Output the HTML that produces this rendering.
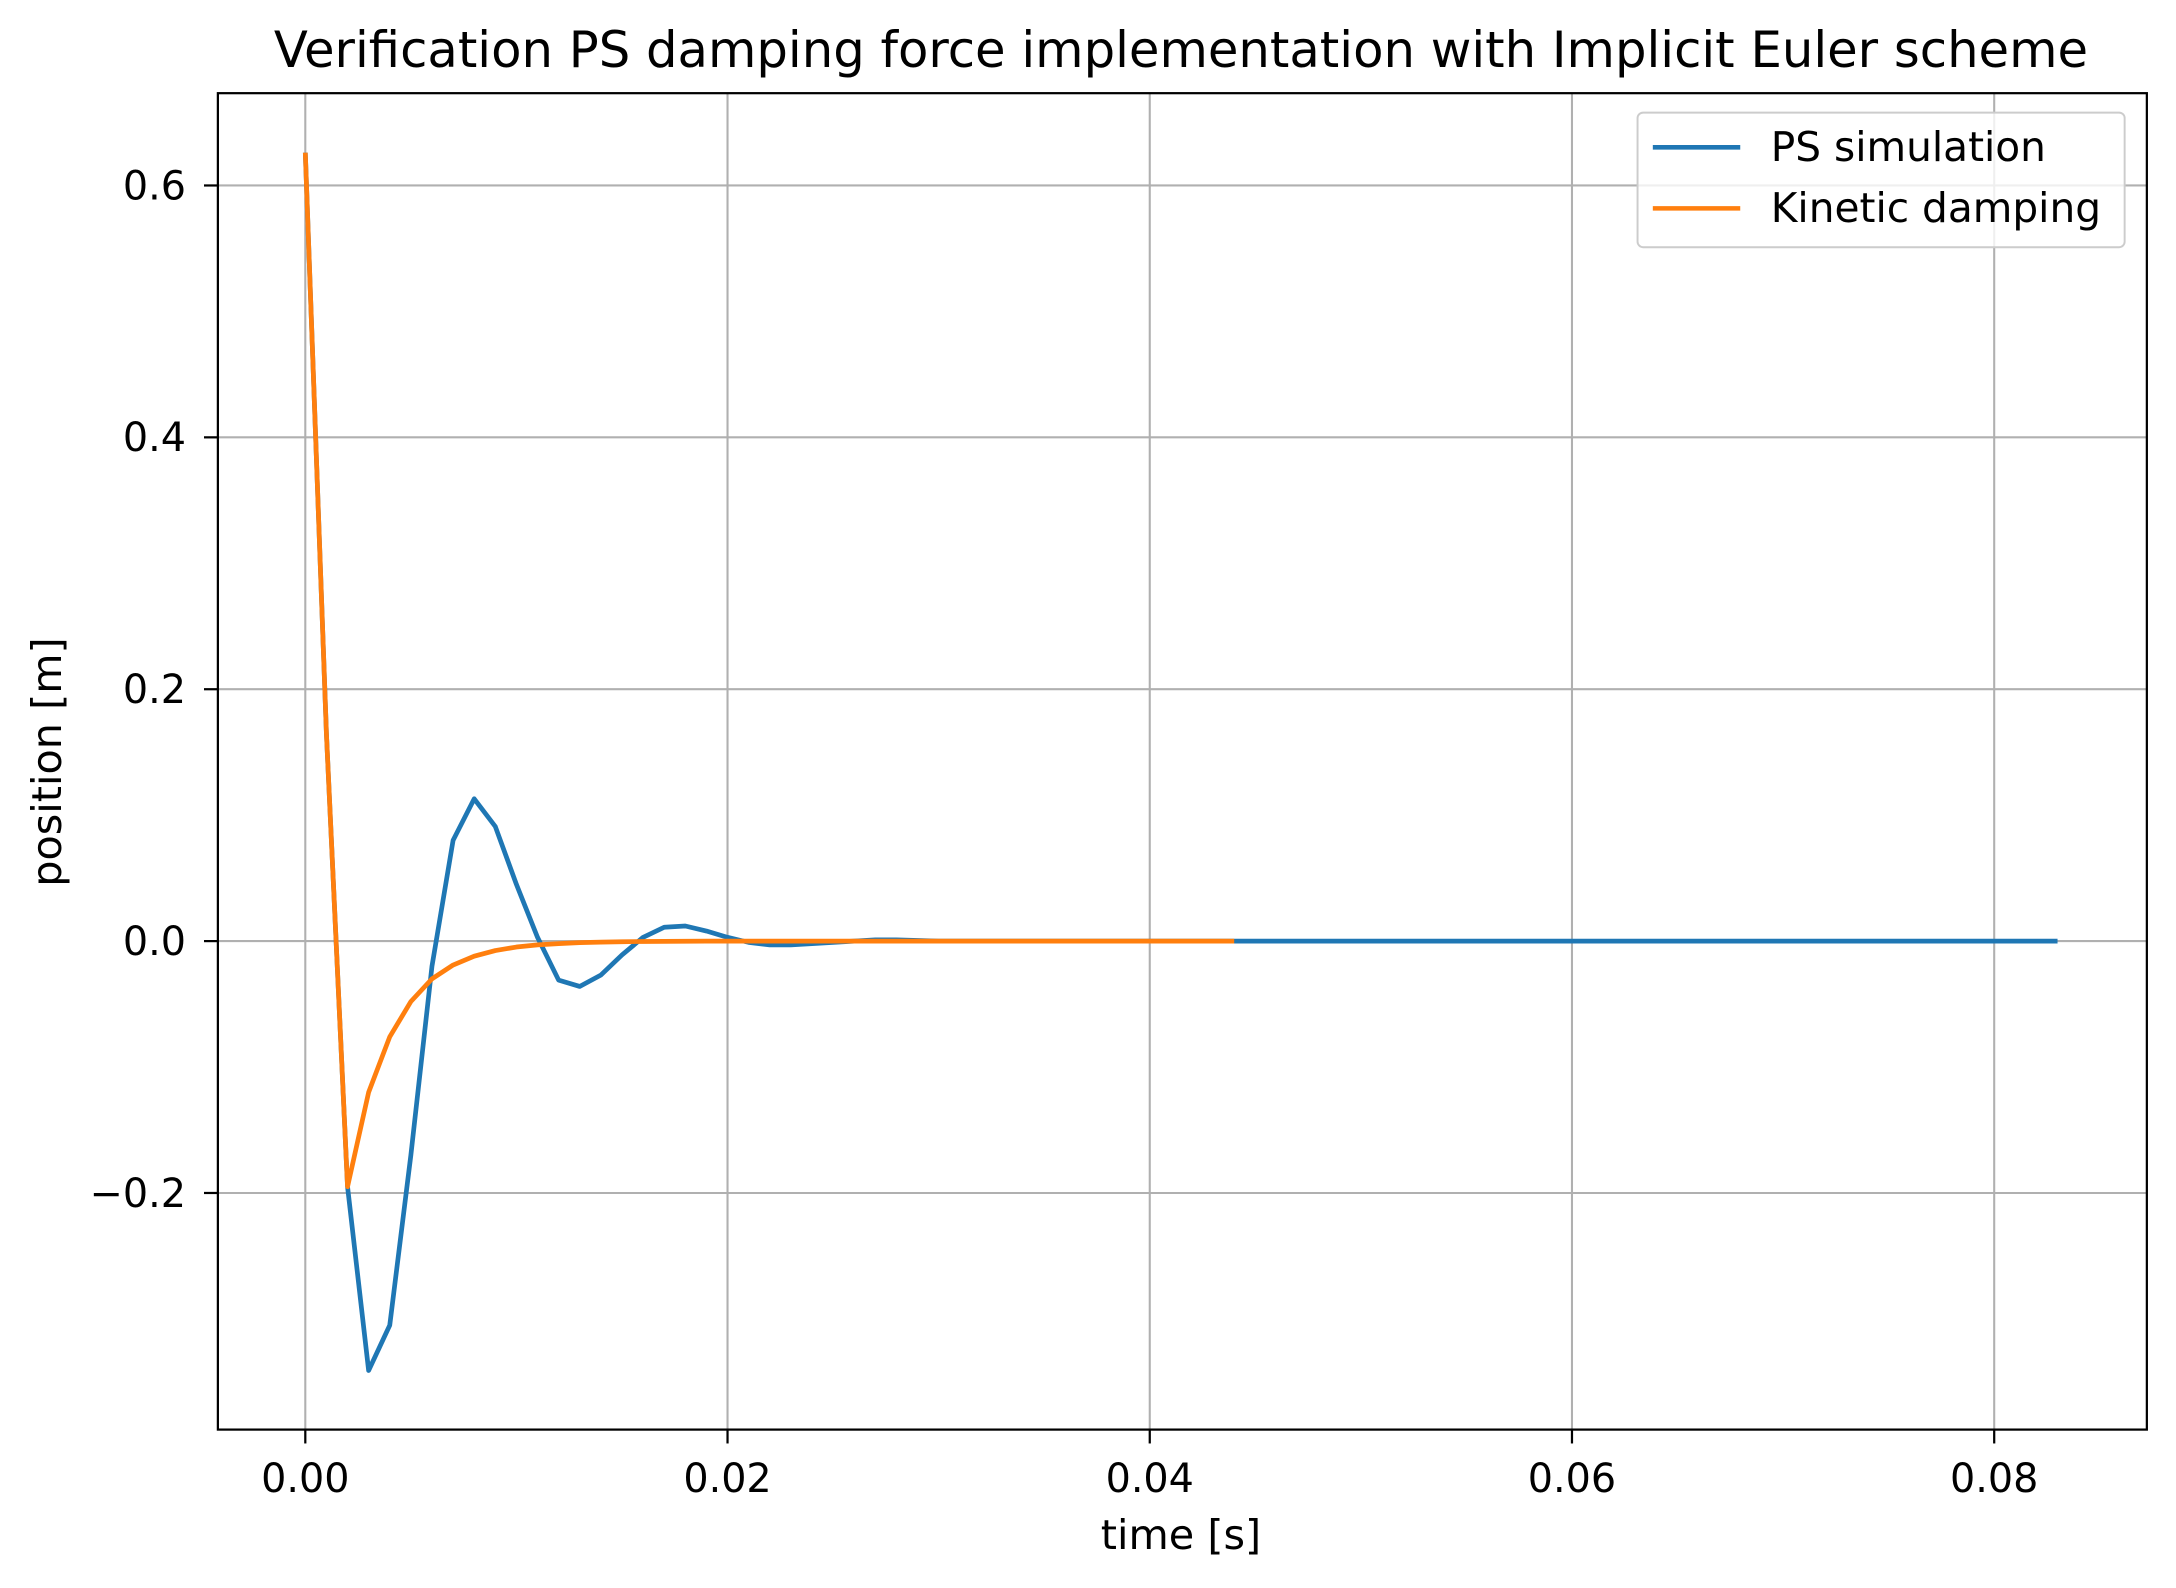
<!DOCTYPE html>
<html><head><meta charset="utf-8"><style>
html,body{margin:0;padding:0;background:#fff}
svg{display:block}
text{font-family:"DejaVu Sans","Liberation Sans",sans-serif;fill:#000}
</style></head><body>
<svg id="chart" width="2176" height="1588" viewBox="0 0 1568 1144" xmlns="http://www.w3.org/2000/svg">
<rect width="1568" height="1144" fill="#fff"/>
<g id="grid"></g>
<g id="series"></g>
<rect x="157" y="67" width="1390" height="963" fill="none" stroke="#000" stroke-width="1.6"/>
<g id="ticks"></g>
<text x="851" y="48" font-size="35.8" text-anchor="middle">Verification PS damping force implementation with Implicit Euler scheme</text>
<text x="851" y="1116" font-size="29.8" text-anchor="middle">time [s]</text>
<text transform="translate(44,549) rotate(-90)" font-size="29.8" text-anchor="middle">position [m]</text>
<g>
<rect x="1180" y="81" width="351" height="97" rx="4" fill="#fff" fill-opacity="0.8" stroke="#ccc" stroke-width="1.4"/>
<line x1="1191" y1="106" x2="1254" y2="106" stroke="#1f77b4" stroke-width="3.3"/>
<text x="1276" y="116" font-size="29.3">PS simulation</text>
<line x1="1191" y1="150" x2="1254" y2="150" stroke="#ff7f0e" stroke-width="3.3"/>
<text x="1276" y="160" font-size="29.3">Kinetic damping</text>
</g>
</svg>
<script>
const xTicks=[0,0.02,0.04,0.06,0.08];
const xTickLabels=["0.00","0.02","0.04","0.06","0.08"];
const yTicks=[-0.2,0,0.2,0.4,0.6];
const yTickLabels=["\u22120.2","0.0","0.2","0.4","0.6"];
const dt=0.001;
const psValues=[0.626,0.165,-0.195,-0.341,-0.305,-0.17,-0.02,0.08,0.113,0.091,0.045,0.003,-0.031,-0.036,-0.027,-0.011,0.003,0.011,0.012,0.008,0.003,-0.001,-0.003,-0.003,-0.002,-0.001,0,0.001,0.001,0.0005,0,0,0,0,0,0,0,0,0,0,0,0,0,0,0,0,0,0,0,0,0,0,0,0,0,0,0,0,0,0,0,0,0,0,0,0,0,0,0,0,0,0,0,0,0,0,0,0,0,0,0,0,0,0];
const kineticValues=[0.626,0.165,-0.195,-0.12,-0.076,-0.048,-0.03,-0.019,-0.012,-0.0075,-0.0047,-0.003,-0.002,-0.0012,-0.0008,-0.0005,-0.0003,-0.0002,-0.0001,0,0,0,0,0,0,0,0,0,0,0,0,0,0,0,0,0,0,0,0,0,0,0,0,0,0];
const X=v=>220+(v/0.02)*304.25;
const Y=v=>678-(v/0.2)*181.5;
const NS="http://www.w3.org/2000/svg";
function mk(tag,attrs,parent){const e=document.createElementNS(NS,tag);for(const k in attrs)e.setAttribute(k,attrs[k]);parent.appendChild(e);return e;}
const grid=document.getElementById('grid'),ticks=document.getElementById('ticks'),series=document.getElementById('series');
xTicks.forEach((t,i)=>{
 const g=mk('line',{x1:X(t),x2:X(t),y1:67,y2:1030,stroke:'#b0b0b0','stroke-width':1.5},grid);
 
 
 const tk=mk('line',{x1:X(t),x2:X(t),y1:1030,y2:1040,stroke:'#000','stroke-width':1.6},ticks);
 
 
 const tx=mk('text',{x:X(t),y:1075,'font-size':28.6,'text-anchor':'middle'},ticks);
 tx.textContent=xTickLabels[i];
 
 
});
yTicks.forEach((t,i)=>{
 const g=mk('line',{x1:157,x2:1547,y1:Y(t),y2:Y(t),stroke:'#b0b0b0','stroke-width':1.5},grid);
 
 
 const tk=mk('line',{x1:147,x2:157,y1:Y(t),y2:Y(t),stroke:'#000','stroke-width':1.6},ticks);
 
 
 const tx=mk('text',{x:134,y:Y(t)+10,'font-size':28.6,'text-anchor':'end'},ticks);
 tx.textContent=yTickLabels[i];
 
 
});
function line(vals,color,name){
 const pts=vals.map((v,i)=>X(i*dt).toFixed(2)+','+Y(v).toFixed(2)).join(' ');
 const p=mk('polyline',{points:pts,fill:'none',stroke:color,'stroke-width':3.4,'stroke-linejoin':'round'},series);
 
 
}
line(psValues,'#1f77b4','ps-simulation-line');
line(kineticValues,'#ff7f0e','kinetic-damping-line');
</script>
</body></html>
